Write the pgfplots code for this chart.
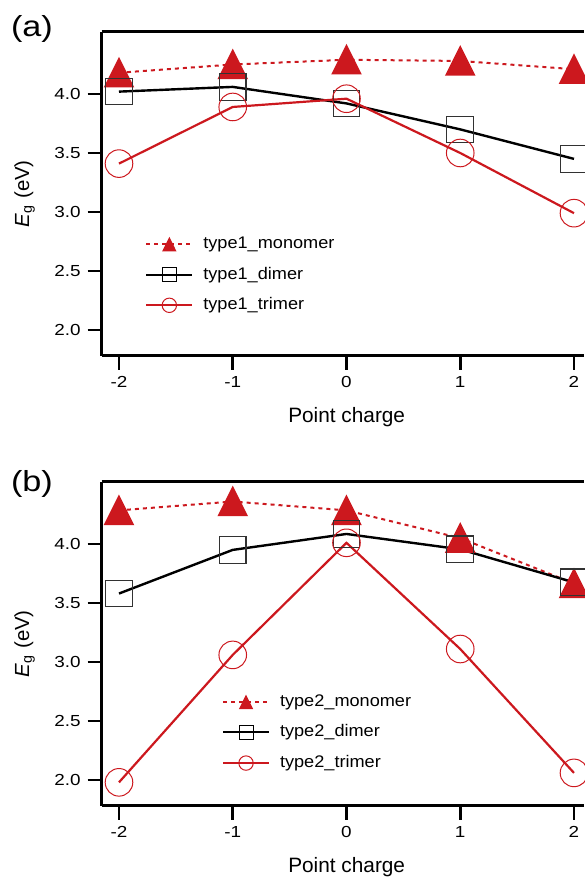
\documentclass[border=0pt]{standalone}
\usepackage{fontspec}
\setmainfont{Liberation Sans}
\newfontfamily\tickfont{Liberation Sans}[FakeStretch=1.18]
\newfontfamily\panelfont{Liberation Sans}[FakeStretch=1.18]
\newfontfamily\legfont{Liberation Sans}[FakeStretch=1.08]
\usepackage{pgfplots}
\usepackage{pgfplotstable}
\pgfplotsset{compat=1.18}

\definecolor{red1}{RGB}{204,24,30}
\definecolor{sqgray}{RGB}{50,50,50}

% E_g vs point charge, type1 (a) and type2 (b)
\pgfplotstableread{
q mono dimer trimer
-2 4.18 4.02 3.41
-1 4.25 4.06 3.89
0 4.29 3.92 3.96
1 4.28 3.70 3.50
2 4.21 3.45 2.99
}\typeA
\pgfplotstableread{
q mono dimer trimer
-2 4.285 3.58 1.98
-1 4.36 3.95 3.06
0 4.285 4.085 4.01
1 4.05 3.955 3.11
2 3.665 3.675 2.06
}\typeB

\pgfplotsset{
  every non boxed y axis/.style={},
  panel/.style={
    scale only axis, width=241.15pt, height=162pt,
    xmin=-2.152, xmax=2.088, ymin=1.782, ymax=4.528,
    axis x line=box, axis y line=left,
    axis line style={line width=1.6pt},
    y axis line style={-},
    xtick={-2,-1,0,1,2}, ytick={2,2.5,3,3.5,4},
    xtick pos=bottom, ytick pos=left,
    tick align=outside,
    major tick length=7pt,
    every tick/.style={black, line width=1.4pt},
    tick label style={font=\tickfont\fontsize{8}{9.5}\selectfont},
    /pgf/number format/assume math mode=true,
    yticklabel style={/pgf/number format/.cd, fixed, fixed zerofill, precision=1},
    clip=false,
    legend cell align=left,
    legend style={draw=none, fill=none, inner sep=0pt, outer sep=0pt,
      anchor=west, column sep=5pt, row sep=7.3pt,
      nodes={inner xsep=0pt, inner ysep=0pt, text height=6.2pt, text depth=1.8pt},
      font=\legfont\fontsize{8.4}{10}\selectfont},
  },
  mono/.style={red1, line width=1pt, dash pattern=on 2pt off 2pt,
    mark=triangle*, mark size=7.88pt,
    mark options={solid, fill=red1, draw=none, yshift=-2.28pt, yscale=1.155},
    legend image code/.code={
      \draw[red1, line width=1pt, dash pattern=on 2pt off 2pt] (0pt,0pt) -- (23pt,0pt);
      \path[fill=red1, draw=none, solid] (11.5pt,3.65pt) -- (7.9pt,-3.65pt) -- (15.1pt,-3.65pt) -- cycle;}},
  dimer/.style={black, line width=1.2pt,
    mark=square, mark size=6.65pt,
    mark options={solid, draw=sqgray, line width=0.55pt},
    legend image code/.code={
      \draw[black, line width=1pt] (0pt,0pt) -- (23pt,0pt);
      \draw[black, line width=0.5pt] (8pt,-3.5pt) rectangle (15pt,3.5pt);}},
  trimer/.style={red1, line width=1.1pt,
    mark=o, mark size=6.9pt,
    mark options={solid, line width=0.5pt},
    legend image code/.code={
      \draw[red1, line width=1pt] (0pt,0pt) -- (23pt,0pt);
      \draw[red1, line width=0.5pt] (11.5pt,0pt) circle (3.6pt);}},
}

\begin{document}
\begin{tikzpicture}
\path[use as bounding box] (0pt,0pt) rectangle (292pt,439pt);

\begin{axis}[panel, at={(50.85pt,261.15pt)}, anchor=south west,
  legend style={at={(axis description cs:0.0905,0.250)}}]
\addplot[mono] table[x=q, y=mono] {\typeA};
\addlegendentry{type1\_monomer}
\addplot[dimer] table[x=q, y=dimer] {\typeA};
\addlegendentry{type1\_dimer}
\addplot[trimer] table[x=q, y=trimer] {\typeA};
\addlegendentry{type1\_trimer}
\end{axis}

\begin{axis}[panel, at={(50.85pt,36.15pt)}, anchor=south west,
  legend style={at={(axis description cs:0.2495,0.226)}}]
\addplot[mono] table[x=q, y=mono] {\typeB};
\addlegendentry{type2\_monomer}
\addplot[dimer] table[x=q, y=dimer] {\typeB};
\addlegendentry{type2\_dimer}
\addplot[trimer] table[x=q, y=trimer] {\typeB};
\addlegendentry{type2\_trimer}
\end{axis}

% panel letters and axis titles
\node[anchor=base west, inner sep=0pt, font=\panelfont\fontsize{14.5}{16}\selectfont] at (5.3pt,420.5pt) {(a)};
\node[anchor=base west, inner sep=0pt, font=\panelfont\fontsize{14.5}{16}\selectfont] at (5.3pt,193.15pt) {(b)};
\node[anchor=base, inner sep=0pt, rotate=90, font=\fontsize{10.2}{12}\selectfont] at (14.5pt,342.15pt) {\textit{E}\textsubscript{g} (eV)};
\node[anchor=base, inner sep=0pt, rotate=90, font=\fontsize{10.2}{12}\selectfont] at (14.5pt,117.15pt) {\textit{E}\textsubscript{g} (eV)};
\node[anchor=base, inner sep=0pt, font=\fontsize{10.4}{12}\selectfont] at (173.35pt,227.65pt) {Point charge};
\node[anchor=base, inner sep=0pt, font=\fontsize{10.4}{12}\selectfont] at (173.35pt,2.65pt) {Point charge};
\end{tikzpicture}
\end{document}
